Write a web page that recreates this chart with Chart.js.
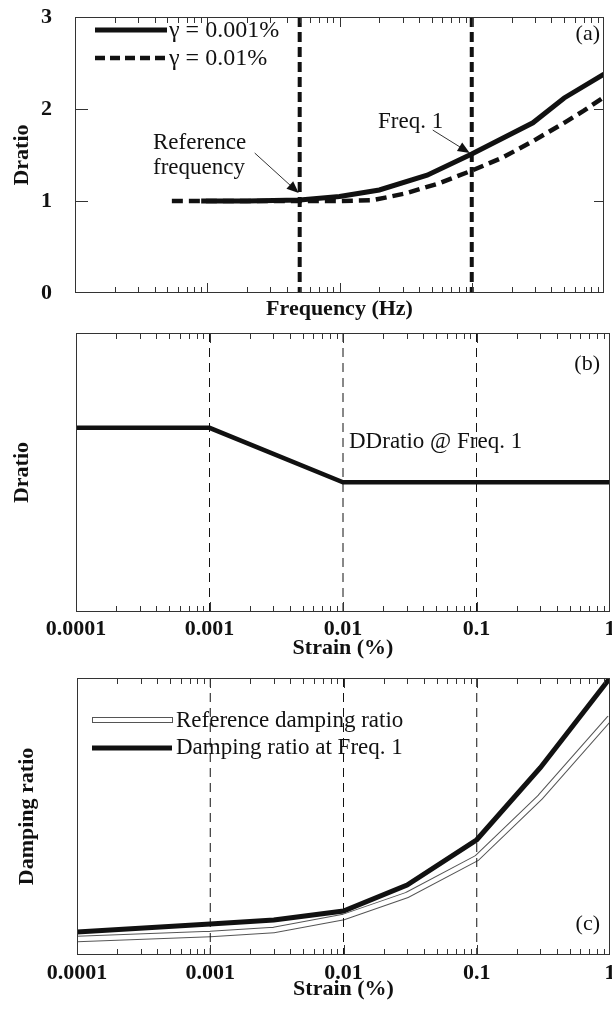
<!DOCTYPE html>
<html>
<head>
<meta charset="utf-8">
<script src="https://cdn.jsdelivr.net/npm/chart.js@4.4.1/dist/chart.umd.min.js"></script>
<style>
  html, body { margin: 0; padding: 0; background: #fff; }
  body { width: 612px; height: 1012px; position: relative; overflow: hidden; }
  canvas { position: absolute; left: 0; }
  #chartA { top: 0; }
  #chartB { top: 325px; }
  #chartC { top: 660px; }
</style>
</head>
<body>
<canvas id="chartA" width="612" height="325"></canvas>
<canvas id="chartB" width="612" height="335"></canvas>
<canvas id="chartC" width="612" height="352"></canvas>
<script>
// (a) Dratio vs frequency
const freqSolid = [0.09, 0.2, 0.5, 1, 2, 4.6, 10, 29, 50, 100];
const dratioSolid = [1.0, 1.0, 1.01, 1.05, 1.12, 1.28, 1.51, 1.85, 2.12, 2.38];
const freqDashed = [0.054, 0.2, 0.5, 1, 1.8, 3.1, 5.6, 10, 17, 29, 50, 70, 100];
const dratioDashed = [1.0, 1.0, 1.0, 1.0, 1.01, 1.08, 1.19, 1.33, 1.47, 1.65, 1.85, 1.98, 2.13];
const refFreq = 0.5;
const freq1 = 10;
const dratioTicks = [0, 1, 2, 3];

// (b) DDratio @ Freq. 1 vs strain
const strainB = [0.0001, 0.001, 0.01, 1];
const ddratio = [0.66, 0.66, 0.465, 0.465];

// (c) damping ratio vs strain
const strainC = [0.0001, 0.001, 0.003, 0.01, 0.03, 0.1, 0.3, 1];
const dampRef = [1.44, 1.9, 2.26, 3.43, 5.42, 8.75, 14.26, 21.4];
const dampFreq1 = [2.08, 2.8, 3.16, 3.97, 6.32, 10.4, 16.9, 25];

const strainTicks = [0.0001, 0.001, 0.01, 0.1, 1];
const freqDecades = [0.01, 0.1, 1, 10, 100];

Chart.defaults.font.family = '"Liberation Serif", "Times New Roman", serif';
Chart.defaults.color = '#111';

const SERIF = '"Liberation Serif", "Times New Roman", serif';
const INK = '#111';

const pts = (xs, ys) => xs.map((x, i) => ({ x: x, y: ys[i] }));

function drawArrow(ctx, x0, y0, x1, y1) {
  const ang = Math.atan2(y1 - y0, x1 - x0);
  const len = 12, w = 5;
  ctx.beginPath();
  ctx.moveTo(x0, y0);
  ctx.lineTo(x1 - Math.cos(ang) * len * 0.8, y1 - Math.sin(ang) * len * 0.8);
  ctx.lineWidth = 1;
  ctx.stroke();
  ctx.beginPath();
  ctx.moveTo(x1, y1);
  ctx.lineTo(x1 - len * Math.cos(ang) + w * Math.sin(ang), y1 - len * Math.sin(ang) - w * Math.cos(ang));
  ctx.lineTo(x1 - len * Math.cos(ang) - w * Math.sin(ang), y1 - len * Math.sin(ang) + w * Math.cos(ang));
  ctx.closePath();
  ctx.fill();
}

// frame, inner ticks, dashed markers, notes and legend
const decor = {
  id: 'decor',
  afterDatasetsDraw(chart, args, o) {
    const { ctx, chartArea: a, scales: { x, y } } = chart;
    ctx.save();
    ctx.strokeStyle = INK;
    ctx.fillStyle = INK;

    (o.vlines || []).forEach(v => {
      const px = x.getPixelForValue(v);
      ctx.beginPath();
      ctx.setLineDash(o.vDash);
      ctx.lineWidth = o.vWidth;
      ctx.moveTo(px, a.top);
      ctx.lineTo(px, a.bottom);
      ctx.stroke();
    });
    ctx.setLineDash([]);

    // box
    ctx.lineWidth = 1;
    ctx.strokeStyle = '#333';
    ctx.strokeRect(a.left + 0.5, a.top + 0.5, a.right - a.left - 1, a.bottom - a.top - 1);

    // log minor ticks, top and bottom, pointing in
    const lo = Math.floor(Math.log10(x.min)), hi = Math.ceil(Math.log10(x.max));
    ctx.beginPath();
    for (let d = lo; d < hi; d++) {
      for (let m = 1; m < 10; m++) {
        const px = Math.round(x.getPixelForValue(m * Math.pow(10, d))) + 0.5;
        if (px <= a.left + 2 || px >= a.right - 2) continue;
        const len = m === 1 ? 10 : 6;
        ctx.moveTo(px, a.top); ctx.lineTo(px, a.top + len);
        ctx.moveTo(px, a.bottom); ctx.lineTo(px, a.bottom - len);
      }
    }
    (o.yTicks || []).forEach(v => {
      const py = Math.round(y.getPixelForValue(v)) + 0.5;
      ctx.moveTo(a.left, py); ctx.lineTo(a.left + 13, py);
      ctx.moveTo(a.right, py); ctx.lineTo(a.right - 10, py);
    });
    ctx.stroke();

    // arrows
    (o.arrows || []).forEach(r => {
      const tx = x.getPixelForValue(r.at[0]) + r.tip[0];
      const ty = y.getPixelForValue(r.at[1]) + r.tip[1];
      drawArrow(ctx, tx + r.tail[0], ty + r.tail[1], tx, ty);
    });

    // legend samples
    (o.legend || []).forEach(l => {
      ctx.beginPath();
      if (l.style === 'outline') {
        ctx.lineWidth = 1;
        ctx.strokeStyle = '#555';
        ctx.strokeRect(l.x0 + 0.5, l.y - 2.5, l.x1 - l.x0, 5);
      } else {
        ctx.strokeStyle = INK;
        ctx.lineWidth = l.width;
        ctx.setLineDash(l.dash || []);
        ctx.moveTo(l.x0, l.y);
        ctx.lineTo(l.x1, l.y);
        ctx.stroke();
        ctx.setLineDash([]);
      }
    });

    // texts
    ctx.textBaseline = 'middle';
    (o.texts || []).forEach(t => {
      ctx.font = (t.weight || 'normal') + ' ' + (t.size || 22) + 'px ' + SERIF;
      ctx.textAlign = t.align || 'left';
      ctx.fillText(t.text, t.x, t.y);
    });
    ctx.restore();
  }
};

function logX(min, max, ticks, showLabels, titleText, titleBottom, labelPad, h) {
  return {
    type: 'logarithmic',
    min: min,
    max: max,
    grid: { display: false },
    border: { display: false },
    afterBuildTicks: s => { s.ticks = ticks.map(v => ({ value: v })); },
    afterFit: s => { s.height = h; s.paddingLeft = 0; s.paddingRight = 0; },
    ticks: {
      display: showLabels,
      autoSkip: false,
      maxRotation: 0,
      padding: labelPad,
      font: { size: 22, weight: 'bold' },
      callback: v => String(v)
    },
    title: {
      display: true,
      text: titleText,
      font: { size: 22, weight: 'bold' },
      padding: { top: 0, bottom: titleBottom }
    }
  };
}

function linY(min, max, ticks, titleText, titleLeft, w) {
  return {
    min: min,
    max: max,
    grid: { display: false },
    border: { display: false },
    afterBuildTicks: s => { s.ticks = ticks.map(v => ({ value: v })); },
    afterFit: s => { s.width = w; s.paddingTop = 0; s.paddingBottom = 0; },
    ticks: {
      display: ticks.length > 0,
      padding: 15,
      font: { size: 22, weight: 'bold' }
    },
    title: {
      display: true,
      text: titleText,
      font: { size: 22, weight: 'bold' },
      padding: { top: titleLeft, bottom: 0 }
    }
  };
}

const base = {
  type: 'line',
  plugins: [decor]
};

function common(padTop, padRight) {
  return {
    responsive: false,
    animation: false,
    devicePixelRatio: 1,
    layout: { padding: { top: padTop, right: padRight, left: 0, bottom: 0 } },
    elements: { point: { radius: 0 }, line: { tension: 0, borderCapStyle: 'butt' } }
  };
}

// panel (a)
new Chart(document.getElementById('chartA'), {
  ...base,
  data: {
    datasets: [
      { data: pts(freqSolid, dratioSolid), borderColor: INK, borderWidth: 5 },
      { data: pts(freqDashed, dratioDashed), borderColor: INK, borderWidth: 4.5, borderDash: [11, 6] }
    ]
  },
  options: {
    ...common(17, 8),
    scales: {
      x: logX(0.01, 100, freqDecades, false, 'Frequency (Hz)', 2, 0, 32),
      y: linY(0, 3, dratioTicks, 'Dratio', 9, 75)
    },
    plugins: {
      legend: { display: false },
      tooltip: { enabled: false },
      decor: {
        vlines: [refFreq, freq1], vDash: [10, 5], vWidth: 4,
        yTicks: [1, 2],
        arrows: [
          { at: [refFreq, 1], tip: [-1, -8], tail: [-44, -40] },
          { at: [freq1, 1.51], tip: [-2, -1], tail: [-37, -23] }
        ],
        legend: [
          { x0: 95, x1: 167, y: 30, width: 5 },
          { x0: 95, x1: 167, y: 58, width: 4.5, dash: [10, 5] }
        ],
        texts: [
          { text: 'γ = 0.001%', x: 169, y: 31, size: 24 },
          { text: 'γ = 0.01%', x: 169, y: 59, size: 24 },
          { text: 'Reference', x: 153, y: 143, size: 23 },
          { text: 'frequency', x: 153, y: 168, size: 23 },
          { text: 'Freq. 1', x: 378, y: 122, size: 23 },
          { text: '(a)', x: 600, y: 34, align: 'right' }
        ]
      }
    }
  }
});

// panel (b)
new Chart(document.getElementById('chartB'), {
  ...base,
  data: {
    datasets: [
      { data: pts(strainB, ddratio), borderColor: INK, borderWidth: 4.5 }
    ]
  },
  options: {
    ...common(8, 2),
    scales: {
      x: logX(0.0001, 1, strainTicks, true, 'Strain (%)', -2, -4, 48),
      y: linY(0, 1, [], 'Dratio', 9, 76)
    },
    plugins: {
      legend: { display: false },
      tooltip: { enabled: false },
      decor: {
        vlines: [0.001, 0.01, 0.1], vDash: [9, 6], vWidth: 1,
        texts: [
          { text: 'DDratio @ Freq. 1', x: 349, y: 117, size: 23 },
          { text: '(b)', x: 600, y: 39, align: 'right' }
        ]
      }
    }
  }
});

// panel (c)
new Chart(document.getElementById('chartC'), {
  ...base,
  data: {
    datasets: [
      { data: pts(strainC, dampRef), borderColor: '#fff', borderWidth: 4.5, order: 0 },
      { data: pts(strainC, dampRef), borderColor: '#555', borderWidth: 6.5, order: 1 },
      { data: pts(strainC, dampFreq1), borderColor: INK, borderWidth: 5, order: 2 }
    ]
  },
  options: {
    ...common(18, 2),
    scales: {
      x: logX(0.0001, 1, strainTicks, true, 'Strain (%)', 9, -3, 57),
      y: linY(0, 25, [], 'Damping ratio', 14, 77)
    },
    plugins: {
      legend: { display: false },
      tooltip: { enabled: false },
      decor: {
        vlines: [0.001, 0.01, 0.1], vDash: [9, 6], vWidth: 1,
        legend: [
          { x0: 92, x1: 172, y: 60, style: 'outline' },
          { x0: 92, x1: 172, y: 88, width: 5 }
        ],
        texts: [
          { text: 'Reference damping ratio', x: 176, y: 61, size: 23 },
          { text: 'Damping ratio at Freq. 1', x: 176, y: 88, size: 23 },
          { text: '(c)', x: 600, y: 264, align: 'right' }
        ]
      }
    }
  }
});
</script>
</body>
</html>
